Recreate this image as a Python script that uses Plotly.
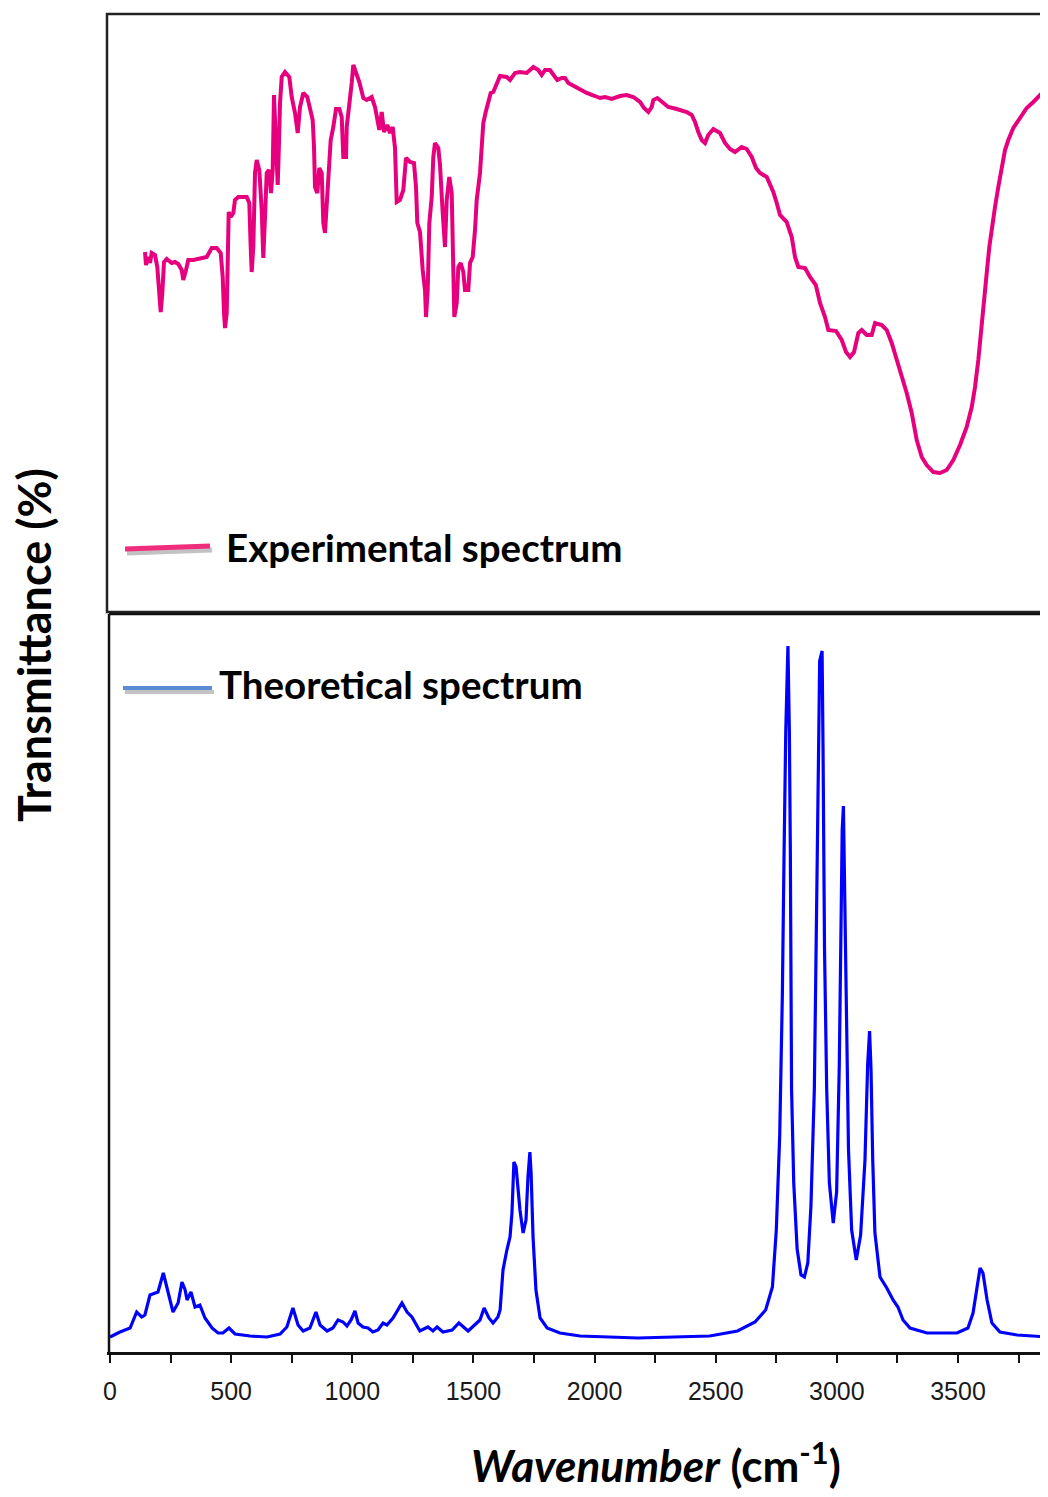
import plotly.graph_objects as go

# ---------------- data ----------------
# Experimental spectrum: wavenumber (cm-1) and transmittance (arbitrary units)
exp_wn = [144.5, 148.6, 158.1, 165.1, 172.1, 185.7, 195.2, 203.5, 209.3, 215.9, 222.9, 234.0,
          254.7, 268.3, 281.9, 295.9, 302.5, 313.7, 323.2, 343.8, 371.5, 399.1, 419.8, 440.4,
          456.9, 465.2, 470.5, 474.7, 481.7, 485.8, 489.9, 498.2, 508.9, 515.9, 529.5, 564.2,
          574.9, 580.7, 584.8, 591.5, 598.5, 605.5, 616.2, 626.1, 632.7, 639.7, 646.8, 656.3,
          664.5, 671.5, 676.9, 682.3, 688.0, 692.2, 697.5, 701.7, 708.7, 722.3, 740.1, 749.9,
          763.6, 774.7, 784.2, 797.8, 814.3, 825.5, 836.6, 842.0, 846.1, 855.6, 863.9, 873.8,
          880.4, 887.4, 894.4, 901.0, 910.9, 921.7, 932.8, 946.4, 956.3, 962.9, 974.1, 977.0,
          987.7, 997.6, 1004.2, 1015.3, 1029.0, 1045.5, 1059.5, 1080.1, 1093.8, 1111.5, 1121.4,
          1130.9, 1144.5, 1155.7, 1166.8, 1176.3, 1183.3, 1196.9, 1210.6, 1221.7, 1238.2, 1254.7,
          1263.0, 1268.4, 1279.5, 1290.6, 1300.1, 1304.3, 1311.3, 1317.9, 1327.8, 1334.4, 1341.4,
          1355.0, 1362.0, 1373.2, 1382.7, 1389.7, 1400.4, 1410.3, 1416.9, 1421.1, 1431.0, 1437.6,
          1447.5, 1458.2, 1465.2, 1478.8, 1485.9, 1497.0, 1506.5, 1513.5, 1527.1, 1534.1, 1540.7,
          1550.7, 1561.4, 1571.3, 1582.0, 1596.0, 1609.7, 1637.3, 1651.0, 1671.6, 1692.2, 1719.9,
          1747.1, 1767.7, 1781.8, 1795.4, 1816.1, 1836.7, 1846.2, 1864.4, 1878.0, 1891.6, 1926.2,
          1967.5, 2001.8, 2022.4, 2043.1, 2070.7, 2105.0, 2132.6, 2159.9, 2187.5, 2204.0, 2221.8,
          2235.8, 2242.4, 2258.9, 2277.1, 2304.3, 2339.0, 2380.3, 2400.9, 2414.5, 2428.2, 2442.2,
          2455.8, 2469.4, 2490.1, 2517.7, 2538.4, 2559.0, 2579.6, 2607.3, 2627.9, 2648.6, 2666.3,
          2682.8, 2710.5, 2737.7, 2751.8, 2765.4, 2793.0, 2813.7, 2827.3, 2840.9, 2868.5, 2889.2,
          2913.1, 2930.5, 2951.1, 2964.7, 2996.5, 3020.0, 3037.8, 3054.3, 3070.8, 3088.5, 3102.6,
          3123.2, 3143.8, 3157.5, 3185.1, 3205.8, 3226.4, 3247.0, 3267.7, 3288.3, 3308.9, 3329.6,
          3350.2, 3370.8, 3398.1, 3425.7, 3453.4, 3480.6, 3508.3, 3535.9, 3556.6, 3570.2, 3583.8,
          3593.7, 3604.4, 3618.5, 3629.2, 3639.1, 3652.7, 3666.3, 3680.4, 3694.0, 3707.6, 3728.3,
          3755.9, 3783.6, 3810.8, 3838.5, 3866.1, 3880.0]
exp_t = [360, 347, 355, 349, 359, 357, 345, 319, 300, 319, 350, 353,
         349, 350, 348, 342, 332, 342, 352, 352, 354, 355, 364, 364,
         359, 335, 299, 284, 299, 369, 400, 395, 399, 412, 415, 415,
         409, 365, 340, 365, 439, 452, 442, 402, 354, 395, 439, 442,
         419, 442, 517, 485, 439, 427, 469, 509, 535, 540, 535, 515,
         499, 479, 505, 519, 515, 505, 492, 465, 425, 419, 444, 439,
         389, 379, 405, 430, 472, 485, 503, 503, 495, 455, 455, 485,
         504, 529, 547, 539, 530, 514, 512, 515, 505, 482, 500,
         480, 487, 479, 485, 464, 410, 412, 422, 454, 450, 449,
         425, 389, 380, 342, 322, 295, 322, 389, 415, 455, 469,
         464, 447, 399, 365, 412, 435, 419, 335, 295, 309, 345,
         349, 340, 322, 322, 349, 355, 382, 412, 439, 465, 489,
         500, 510, 519, 520, 528, 536, 535, 532, 539, 540, 539,
         545, 542, 537, 542, 542, 535, 532, 534, 534, 529, 524,
         519, 516, 514, 515, 513, 516, 517, 515, 510, 504, 500,
         505, 512, 514, 510, 505, 503, 500, 497, 490, 480, 472,
         469, 477, 483, 479, 469, 463, 460, 465, 463, 455, 444,
         439, 435, 420, 409, 397, 390, 375, 355, 345, 344, 335,
         327, 309, 295, 282, 281, 272, 260, 255, 260, 279, 282,
         277, 277, 289, 287, 282, 269, 252, 237, 219, 199, 172,
         155, 147, 140, 139, 142, 152, 167, 185, 205, 225, 252,
         279, 309, 339, 365, 385, 405, 425, 445, 462, 472, 484,
         494, 504, 510, 517, 524, 526]

# Theoretical spectrum: wavenumber (cm-1) and intensity (arbitrary units)
theo_wn = [0, 41, 83, 110, 131, 144, 165, 186, 198, 220, 240, 260, 281, 297, 310, 318, 334,
           351, 371, 392, 421, 446, 466, 491, 516, 578, 648, 702, 730, 755, 776, 797, 825,
           850, 867, 896, 920, 941, 962, 978, 995, 1011, 1024, 1044, 1065, 1085, 1106, 1127,
           1143, 1168, 1205, 1226, 1246, 1279, 1312, 1333, 1350, 1374, 1412, 1440, 1478, 1515,
           1527, 1544, 1564, 1581, 1601, 1610, 1622, 1638, 1651, 1659, 1667, 1676, 1692, 1705,
           1717, 1725, 1733, 1738, 1746, 1758, 1775, 1804, 1857, 1940, 2179, 2475, 2590, 2662,
           2706, 2734, 2750, 2764, 2775, 2782, 2789, 2798, 2804, 2808, 2813, 2822, 2836, 2852,
           2866, 2880, 2893, 2907, 2917, 2924, 2929, 2939, 2943, 2949, 2958, 2969, 2985, 2999,
           3010, 3017, 3022, 3027, 3033, 3039, 3048, 3061, 3080, 3098, 3116, 3127, 3135, 3141,
           3148, 3157, 3178, 3206, 3232, 3252, 3273, 3302, 3372, 3496, 3541, 3562, 3578, 3591,
           3603, 3620, 3640, 3673, 3744, 3871]
theo_i = [15, 20, 24, 40, 35, 37, 57, 59, 60, 79, 59, 40, 49, 70, 62, 52, 60,
          45, 47, 34, 24, 19, 19, 24, 18, 16, 15, 18, 25, 44, 27, 21, 24,
          40, 27, 21, 24, 32, 30, 26, 32, 41, 29, 25, 24, 20, 22, 29,
          27, 34, 49, 40, 35, 21, 25, 21, 25, 20, 22, 29, 21, 30,
          32, 44, 34, 29, 35, 42, 82, 102, 115, 139, 190, 185, 142, 119,
          132, 175, 200, 179, 115, 62, 34, 24, 19, 16, 14, 16, 21, 30,
          42, 65, 122, 216, 357, 498, 620, 706, 620, 498, 263, 169, 103, 77,
          75, 89, 146, 263, 428, 592, 691, 701, 601, 404, 263, 169, 129, 160,
          287, 428, 522, 546, 451, 310, 202, 122, 92, 117, 192, 287, 321, 282,
          192, 119, 75, 64, 52, 45, 32, 24, 19, 19, 24, 39, 62, 84,
          79, 52, 29, 20, 17, 15]

tick_vals = [0, 500, 1000, 1500, 2000, 2500, 3000, 3500]
tick_text = ["0", "500", "1000", "1500", "2000", "2500", "3000", "3500"]
minor_tick_vals = [250, 750, 1250, 1750, 2250, 2750, 3250, 3750]

legend_labels = ["Experimental spectrum", "Theoretical spectrum"]
x_title_main = "Wavenumber"
x_title_unit = "(cm<sup>-1</sup>)"
y_title = "Transmittance (%)"

# ---------------- figure ----------------
# The page body has an 8 px margin, so the figure is 8 px smaller and
# all page-pixel positions below are converted through that offset.
OFF = 8
W, H = 1048 - OFF, 1497 - OFF
ML, MT = 107 - OFF, 14 - OFF
AXIS_Y = 1352 - OFF
MB = H - AXIS_Y
plot_h = H - MT - MB
plot_w = W - ML


def px(xp):
    return (xp - OFF - ML) / plot_w


def py(yp):
    return (AXIS_Y - (yp - OFF)) / plot_h


fig = go.Figure()
fig.add_trace(go.Scatter(x=exp_wn, y=exp_t, mode="lines", xaxis="x2", yaxis="y2",
                         line=dict(color="#e6007e", width=4), showlegend=False,
                         name=legend_labels[0]))
fig.add_trace(go.Scatter(x=theo_wn, y=theo_i, mode="lines", xaxis="x", yaxis="y",
                         line=dict(color="#0000ff", width=3.2), showlegend=False,
                         name=legend_labels[1]))

xr = [-12.4, 3871.4]
top_lo = py(612)
bot_hi = py(614)

fig.update_layout(
    width=W, height=H,
    margin=dict(l=ML, r=0, t=MT, b=MB),
    paper_bgcolor="white", plot_bgcolor="rgba(0,0,0,0)",
    xaxis=dict(range=xr, domain=[0, 1], anchor="y",
               tickmode="array", tickvals=tick_vals, ticktext=tick_text,
               ticks="outside", ticklen=8, tickwidth=2, tickcolor="#111",
               minor=dict(tickmode="array", tickvals=minor_tick_vals, ticks="outside",
                          ticklen=8, tickwidth=2, tickcolor="#111", showgrid=False),
               showline=True, linewidth=2.5, linecolor="#111",
               showgrid=False, zeroline=False, ticklabelstandoff=7,
               tickfont=dict(family="Liberation Sans, Arial", size=25, color="#1a1a1a")),
    yaxis=dict(range=[0, 738], domain=[0, bot_hi], visible=False, showgrid=False),
    xaxis2=dict(range=xr, domain=[0, 1], anchor="y2", matches="x", visible=False,
                showgrid=False),
    yaxis2=dict(range=[0, 598], domain=[top_lo, 1], visible=False, showgrid=False),
)

shapes = []
# top panel frame (right side runs off the page)
shapes.append(dict(type="rect", xref="paper", yref="paper", x0=0, x1=1.05,
                   y0=top_lo, y1=1, line=dict(color="#222", width=2.5)))
# bottom panel: left and top borders
shapes.append(dict(type="line", xref="paper", yref="paper", x0=px(109), x1=px(109),
                   y0=0, y1=bot_hi, line=dict(color="#111", width=2.5)))
shapes.append(dict(type="line", xref="paper", yref="paper", x0=px(109), x1=1.05,
                   y0=bot_hi, y1=bot_hi, line=dict(color="#111", width=2.5)))
# legend swatches with soft shadows
shapes.append(dict(type="line", xref="paper", yref="paper", x0=px(127), x1=px(212),
                   y0=py(553), y1=py(550), line=dict(color="rgba(80,80,80,0.35)", width=5)))
shapes.append(dict(type="line", xref="paper", yref="paper", x0=px(125), x1=px(210),
                   y0=py(549), y1=py(546), line=dict(color="#ef2d7c", width=5)))
shapes.append(dict(type="line", xref="paper", yref="paper", x0=px(125), x1=px(214),
                   y0=py(692), y1=py(692), line=dict(color="rgba(80,80,80,0.35)", width=4)))
shapes.append(dict(type="line", xref="paper", yref="paper", x0=px(123), x1=px(212),
                   y0=py(688), y1=py(688), line=dict(color="#5b8bd2", width=4)))
fig.update_layout(shapes=shapes)

title_font = dict(family="Lato, Carlito, Calibri, sans-serif", color="#000")
annotations = [
    dict(text="<b>" + legend_labels[0] + "</b>", x=px(224), y=py(547), xref="paper",
         yref="paper", xanchor="left", yanchor="middle", showarrow=False,
         font=dict(size=38.5, **title_font)),
    dict(text="<b>" + legend_labels[1] + "</b>", x=px(217), y=py(684), xref="paper",
         yref="paper", xanchor="left", yanchor="middle", showarrow=False,
         font=dict(size=38.5, **title_font)),
    dict(text="<b>" + y_title + "</b>", x=px(34), y=py(645), xref="paper", yref="paper",
         xanchor="center", yanchor="middle", textangle=-90, showarrow=False,
         font=dict(size=45, **title_font)),
    dict(text="<b><i>" + x_title_main + "</i> " + x_title_unit + "</b>", x=px(656), y=py(1463),
         xref="paper", yref="paper", xanchor="center", yanchor="middle", showarrow=False,
         font=dict(size=44, **title_font)),
]
fig.update_layout(annotations=annotations)

fig.write_html("out.html")
